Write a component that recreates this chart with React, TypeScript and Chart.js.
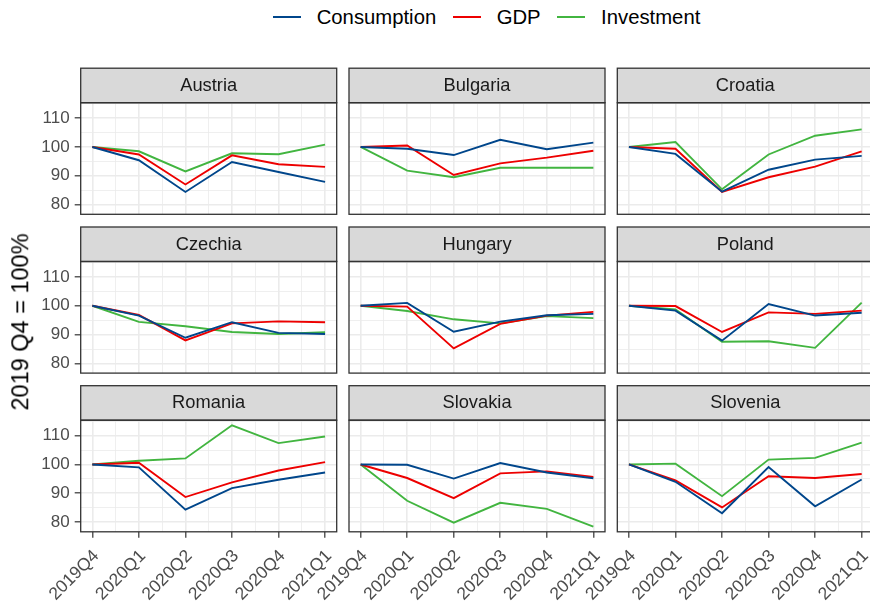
import React, { useEffect, useRef } from "react";
import { Chart, registerables } from "chart.js";

Chart.register(...registerables);

// ---------------- data ----------------
const quarters = ["2019Q4", "2020Q1", "2020Q2", "2020Q3", "2020Q4", "2021Q1"];
const countries = [
  "Austria", "Bulgaria", "Croatia",
  "Czechia", "Hungary", "Poland",
  "Romania", "Slovakia", "Slovenia",
];
const seriesNames = ["Consumption", "GDP", "Investment"];
const seriesColors = ["#00468B", "#ED0000", "#42B540"];

const consumption = [
  [100, 95.4, 84.4, 94.8, 91.3, 87.9],
  [100, 99.4, 97.2, 102.5, 99.2, 101.5],
  [100, 97.6, 84.5, 92.1, 95.6, 96.9],
  [100, 96.6, 88.9, 94.3, 90.6, 90.2],
  [100, 101.0, 91.0, 94.5, 96.7, 97.2],
  [100, 98.3, 87.9, 100.6, 96.6, 97.6],
  [100, 99.0, 84.3, 91.8, 94.7, 97.2],
  [100, 99.9, 95.1, 100.5, 97.2, 95.2],
  [100, 94.0, 83.1, 99.1, 85.5, 94.8],
];
const gdp = [
  [100, 97.4, 87.0, 97.1, 94.0, 93.1],
  [100, 100.5, 90.3, 94.3, 96.3, 98.7],
  [100, 99.4, 84.4, 89.5, 93.2, 98.5],
  [100, 96.8, 88.0, 93.9, 94.6, 94.3],
  [100, 99.7, 85.2, 93.7, 96.6, 97.9],
  [100, 99.9, 90.9, 97.7, 97.2, 98.3],
  [100, 100.6, 88.7, 93.8, 97.9, 100.8],
  [100, 95.3, 88.3, 96.9, 97.6, 95.7],
  [100, 94.5, 85.1, 95.9, 95.3, 96.7],
];
const investment = [
  [100, 98.5, 91.5, 97.8, 97.5, 100.8],
  [100, 91.8, 89.5, 92.8, 92.8, 92.8],
  [100, 101.7, 85.3, 97.4, 103.9, 106.1],
  [100, 94.4, 92.9, 90.9, 90.2, 90.8],
  [100, 98.2, 95.3, 93.9, 96.4, 95.7],
  [100, 98.7, 87.5, 87.7, 85.4, 101.1],
  [100, 101.3, 102.1, 113.6, 107.4, 109.7],
  [100, 87.4, 79.8, 86.7, 84.6, 78.4],
  [100, 100.3, 89.0, 101.7, 102.3, 107.6],
];
const seriesData = [consumption, gdp, investment];

const yBreaks = [80, 90, 100, 110];
const yMinorBreaks = [85, 95, 105, 115];
const yAxisTitle = "2019 Q4 = 100%";

// ---------------- layout ----------------
const FONT = '"Liberation Sans", Arial, Helvetica, sans-serif';
const colLefts = [80.7, 349.0, 617.3];
const rowTops = [102.7, 261.5, 420.2];
const PLOT_W = 256;
const PLOT_H = 111.6;
const STRIP_H = 34.5;
const LEFT_SPACE = 80;
const TOP_SPACE = 40;
const RIGHT_SPACE = 10;
const BOTTOM_SPACE = 75;

const allValues = seriesData.flat(2);
const dataMin = Math.min(...allValues);
const dataMax = Math.max(...allValues);
const yPad = (dataMax - dataMin) * 0.05;
const yMin = dataMin - yPad;
const yMax = dataMax + yPad;
const xPad = (quarters.length - 1) * 0.05;

function Panel({ index }: { index: number }) {
  const ref = useRef<HTMLCanvasElement | null>(null);
  const row = Math.floor(index / 3);
  const col = index % 3;
  const isLeft = col === 0;
  const isBottom = row === 2;

  const plotLeft = colLefts[col];
  const plotTop = rowTops[row];
  const left = Math.floor(plotLeft - LEFT_SPACE);
  const top = Math.floor(plotTop - TOP_SPACE);
  const yAxisW = plotLeft - left;
  const padTop = plotTop - top;
  const W = Math.ceil(yAxisW + PLOT_W + RIGHT_SPACE);
  const H = Math.ceil(padTop + PLOT_H + BOTTOM_SPACE);
  const padRight = W - yAxisW - PLOT_W;
  const xAxisH = H - padTop - PLOT_H;

  useEffect(() => {
    if (!ref.current) return;
    const name = countries[index];
    const stripPlugin = {
      id: "strip" + index,
      afterDraw(chart: any) {
        const { ctx, chartArea: a } = chart;
        const w = a.right - a.left;
        ctx.save();
        ctx.fillStyle = "#D9D9D9";
        ctx.fillRect(a.left, a.top - STRIP_H, w, STRIP_H);
        ctx.strokeStyle = "#333333";
        ctx.lineWidth = 1.3;
        ctx.strokeRect(a.left, a.top - STRIP_H, w, STRIP_H);
        ctx.strokeRect(a.left, a.top, w, a.bottom - a.top);
        ctx.fillStyle = "#1A1A1A";
        ctx.font = `18.3px ${FONT}`;
        ctx.textAlign = "center";
        ctx.textBaseline = "middle";
        ctx.fillText(name, a.left + w / 2, a.top - STRIP_H / 2 + 0.5);
        ctx.restore();
      },
    };

    const xGrid: number[] = [];
    for (let i = 0; i < quarters.length; i++) {
      xGrid.push(i);
      if (i < quarters.length - 1) xGrid.push(i + 0.5);
    }
    const yGrid = [...yBreaks, ...yMinorBreaks].sort((a, b) => a - b);

    const chart = new Chart(ref.current, {
      type: "line",
      data: {
        datasets: seriesNames.map((label, s) => ({
          label,
          data: seriesData[s][index].map((v, i) => ({ x: i, y: v })),
          borderColor: seriesColors[s],
          backgroundColor: seriesColors[s],
          borderWidth: 1.9,
          pointRadius: 0,
          tension: 0,
          fill: false,
        })),
      },
      options: {
        responsive: false,
        animation: false,
        events: [],
        layout: { padding: { left: 0, top: padTop, right: padRight, bottom: 0 } },
        plugins: {
          legend: { display: false },
          tooltip: { enabled: false },
        },
        scales: {
          x: {
            type: "linear",
            min: -xPad,
            max: quarters.length - 1 + xPad,
            afterBuildTicks: (s: any) => {
              s.ticks = xGrid.map((v) => ({ value: v }));
            },
            afterFit: (s: any) => {
              s.height = xAxisH;
              s.paddingLeft = 0;
              s.paddingRight = 0;
            },
            border: { display: false },
            grid: {
              color: "#EBEBEB",
              lineWidth: (c: any) => (c.tick && Number.isInteger(c.tick.value) ? 1.6 : 0.8),
              drawTicks: isBottom,
              tickLength: 6,
              tickWidth: 1.2,
              tickColor: (c: any) =>
                c.tick && Number.isInteger(c.tick.value) ? "#333333" : "rgba(0,0,0,0)",
            },
            ticks: {
              display: isBottom,
              autoSkip: false,
              maxRotation: 45,
              minRotation: 45,
              padding: 8,
              labelOffset: 4,
              color: "#4D4D4D",
              font: { family: FONT, size: 17.5 },
              callback: (v: any) => (Number.isInteger(v) ? quarters[v] : ""),
            },
          },
          y: {
            type: "linear",
            min: yMin,
            max: yMax,
            afterBuildTicks: (s: any) => {
              s.ticks = yGrid.map((v) => ({ value: v }));
            },
            afterFit: (s: any) => {
              s.width = yAxisW;
              s.paddingTop = 0;
              s.paddingBottom = 0;
            },
            border: { display: false },
            grid: {
              color: "#EBEBEB",
              lineWidth: (c: any) => (c.tick && yBreaks.includes(c.tick.value) ? 1.6 : 0.8),
              drawTicks: isLeft,
              tickLength: 6,
              tickWidth: 1.2,
              tickColor: (c: any) =>
                c.tick && yBreaks.includes(c.tick.value) ? "#333333" : "rgba(0,0,0,0)",
            },
            ticks: {
              display: isLeft,
              autoSkip: false,
              padding: 5,
              color: "#4D4D4D",
              font: { family: FONT, size: 17 },
              callback: (v: any) => (yBreaks.includes(v) ? String(v) : ""),
            },
          },
        },
      } as any,
      plugins: [stripPlugin],
    });
    return () => chart.destroy();
  }, [index]);

  return (
    <canvas
      ref={ref}
      width={W}
      height={H}
      style={{ position: "absolute", left, top, width: W, height: H }}
    />
  );
}

export default function App() {
  return (
    <div
      style={{
        position: "fixed",
        left: 0,
        top: 0,
        width: 870,
        height: 601,
        overflow: "hidden",
        background: "#FFFFFF",
        fontFamily: FONT,
      }}
    >
      {countries.map((c, i) => (
        <Panel key={c} index={i} />
      ))}
      <div
        style={{
          position: "absolute",
          left: 273,
          top: 0,
          height: 34,
          display: "flex",
          alignItems: "center",
          whiteSpace: "nowrap",
        }}
      >
        {seriesNames.map((n, i) => (
          <div key={n} style={{ display: "flex", alignItems: "center" }}>
            <div style={{ width: 28, height: 2, background: seriesColors[i] }} />
            <span
              style={{
                marginLeft: 15.7,
                marginRight: i < seriesNames.length - 1 ? 16.8 : 0,
                fontSize: 20.3,
                color: "#000000",
                lineHeight: "34px",
              }}
            >
              {n}
            </span>
          </div>
        ))}
      </div>
      <div
        style={{
          position: "absolute",
          left: 21,
          top: 322,
          transform: "translate(-50%, -50%) rotate(-90deg)",
          fontSize: 23.5,
          color: "#000000",
          whiteSpace: "nowrap",
          lineHeight: 1,
        }}
      >
        {yAxisTitle}
      </div>
    </div>
  );
}
